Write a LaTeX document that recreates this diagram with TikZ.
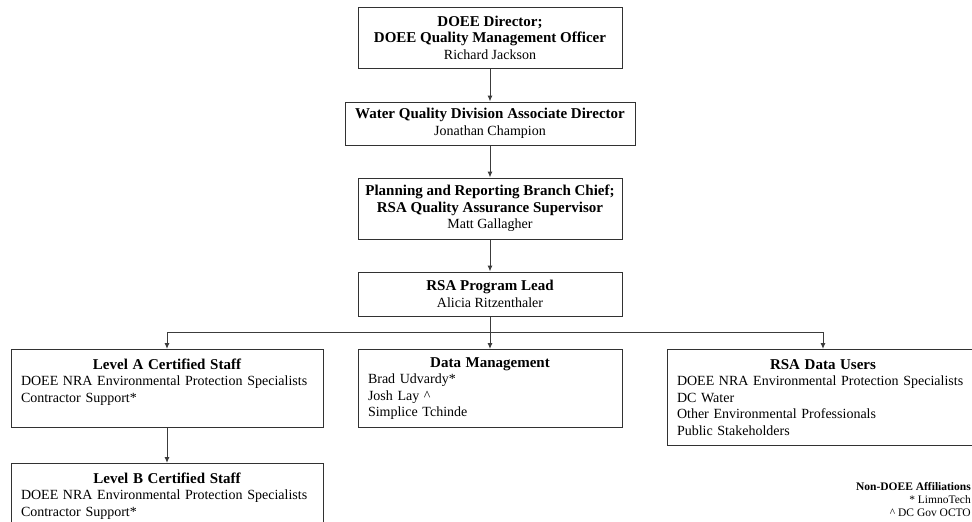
\documentclass[tikz,border=0pt]{standalone}
\usepackage{fontspec}
\setmainfont{Liberation Serif}
\usepackage{xcolor}
\usepackage{tikz}
\usetikzlibrary{arrows.meta}
\definecolor{boxline}{RGB}{50,50,50}
\definecolor{linkgray}{RGB}{60,60,60}
\newcommand{\ttl}[1]{{\fontsize{15}{16.5}\selectfont\bfseries #1}}

\begin{document}
\begin{tikzpicture}[x=1pt, y=-1pt,
    role/.style={draw=boxline, line width=1pt, fill=white, align=center, inner sep=2pt,
        font=\fontsize{14}{16.5}\selectfont},
    team/.style={draw=boxline, line width=1pt, fill=white, align=left, anchor=north,
        inner xsep=10pt, inner ysep=0pt, font=\fontsize{14}{16.5}\selectfont},
    link/.style={draw=linkgray, line width=1pt, -{Latex[length=6pt,width=5pt]}}]
\useasboundingbox (0,0) rectangle (972,522);
\clip (0,0) rectangle (972,522);

% Chain of command
\node[role, minimum width=264, minimum height=61] (director) at (490,37.5)
    {\ttl{DOEE Director;}\\\ttl{DOEE Quality Management Officer}\\Richard Jackson};
\node[role, minimum width=290, minimum height=43] (wqd) at (490,123.5)
    {\ttl{Water Quality Division Associate Director}\\Jonathan Champion};
\node[role, minimum width=264, minimum height=61] (branch) at (490,208.5)
    {\ttl{Planning and Reporting Branch Chief;}\\\ttl{RSA Quality Assurance Supervisor}\\Matt Gallagher};
\node[role, minimum width=264, minimum height=44] (lead) at (490,294)
    {\ttl{RSA Program Lead}\\Alicia Ritzenthaler};

% Teams under the program lead
\node[team, text width=292, minimum height=78] (levela) at (167,349)
    {{\centering\ttl{Level A Certified Staff}\par}\raggedright
    DOEE NRA Environmental Protection Specialists\\Contractor Support*\\ \mbox{}};
\node[team, text width=244, minimum height=78] (datamgmt) at (490,349)
    {{\centering\ttl{Data Management}\par}\raggedright
    Brad Udvardy*\\Josh Lay \^{}\\Simplice Tchinde};
\node[team, text width=292, minimum height=96] (users) at (823,349)
    {{\centering\ttl{RSA Data Users}\par}\raggedright
    DOEE NRA Environmental Protection Specialists\\DC Water\\
    Other Environmental Professionals\\Public Stakeholders};
\node[team, text width=292, minimum height=78] (levelb) at (167,463)
    {{\centering\ttl{Level B Certified Staff}\par}\raggedright
    DOEE NRA Environmental Protection Specialists\\Contractor Support*\\ \mbox{}};

% Affiliation key
\node[anchor=north east, align=right, inner sep=0pt, font=\fontsize{11.5}{13}\selectfont] (key) at (971,482)
    {\textbf{Non-DOEE Affiliations}\\* LimnoTech\\\^{} DC Gov OCTO};

% Connectors
\coordinate (split) at (490,332);
\draw[link] (director) -- (wqd);
\draw[link] (wqd) -- (branch);
\draw[link] (branch) -- (lead);
\draw[link] (lead) -- (datamgmt);
\draw[link] (split) -| (levela);
\draw[link] (split) -| (users);
\draw[link] (levela) -- (levelb);
\end{tikzpicture}
\end{document}
